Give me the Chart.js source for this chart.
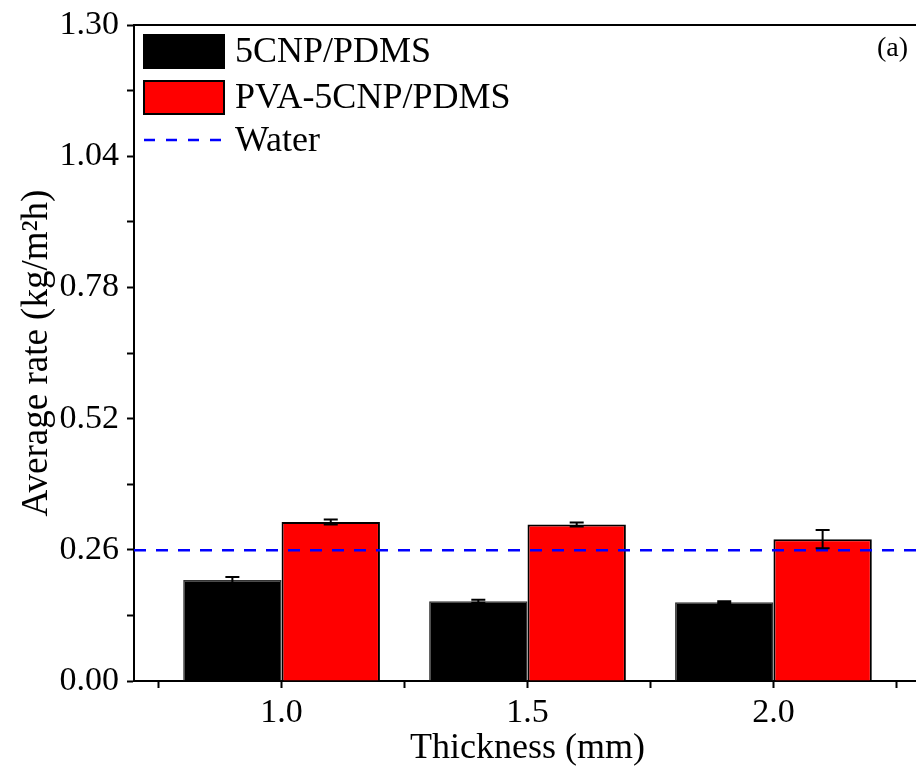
<!DOCTYPE html>
<html>
<head>
<meta charset="utf-8">
<script src="https://cdn.jsdelivr.net/npm/chart.js@4.4.0/dist/chart.umd.min.js"></script>
<style>
  html, body { margin: 0; padding: 0; background: #fff; overflow: hidden; }
  #wrap { width: 916px; height: 767px; overflow: hidden; }
</style>
</head>
<body>
<div id="wrap"><canvas id="grafico" width="940" height="767"></canvas></div>
<script>
// datos
const espesores = [1.0, 1.5, 2.0];
const tasaCNP = [0.200, 0.158, 0.156];
const errCNP = [0.006, 0.003, 0.002];
const tasaPVA = [0.315, 0.310, 0.281];
const errPVA = [0.005, 0.004, 0.018];
const tasaAgua = 0.259;
const ticksX = [0.75, 1.0, 1.25, 1.5, 1.75, 2.0, 2.25];
const etiquetas = ["5CNP/PDMS", "PVA-5CNP/PDMS", "Water"];
const panel = "(a)";
const xMin = 0.7, xMax = 2.3;
const yMax = 1.3, yPaso = 0.13;

const fuente = '"Liberation Serif", "Times New Roman", serif';
Chart.defaults.font.family = fuente;
Chart.defaults.color = "#000";

// barras de error
const barrasError = {
  id: "barrasError",
  afterDatasetsDraw(chart) {
    const ctx = chart.ctx;
    const y = chart.scales.y;
    chart.data.datasets.forEach((ds, i) => {
      if (!ds.errores) return;
      const meta = chart.getDatasetMeta(i);
      meta.data.forEach((bar, j) => {
        const v = ds.data[j].y;
        const e = ds.errores[j];
        const yArr = y.getPixelForValue(v + e);
        const yAba = y.getPixelForValue(v - e);
        ctx.save();
        ctx.strokeStyle = "#000";
        ctx.lineWidth = 2;
        ctx.beginPath();
        ctx.moveTo(bar.x, yArr);
        ctx.lineTo(bar.x, yAba);
        ctx.moveTo(bar.x - 7, yArr);
        ctx.lineTo(bar.x + 7, yArr);
        ctx.moveTo(bar.x - 7, yAba);
        ctx.lineTo(bar.x + 7, yAba);
        ctx.stroke();
        ctx.restore();
      });
    });
  },
};

// marco superior + leyenda + etiqueta del panel
const marcoYLeyenda = {
  id: "marcoYLeyenda",
  afterDraw(chart) {
    const ctx = chart.ctx;
    const a = chart.chartArea;
    ctx.save();
    ctx.strokeStyle = "#000";
    ctx.lineWidth = 2;
    ctx.beginPath();
    ctx.moveTo(a.left, a.top);
    ctx.lineTo(a.right, a.top);
    ctx.lineTo(a.right, a.bottom);
    ctx.stroke();

    const ds = chart.data.datasets;
    const x0 = a.left + 10;
    const textoX = a.left + 101;
    ctx.font = "36px " + fuente;
    ctx.fillStyle = "#000";
    ctx.textBaseline = "middle";
    ctx.textAlign = "left";
    [0, 1].forEach((k) => {
      const yc = a.top + 26 + k * 46;
      ctx.fillStyle = ds[k].backgroundColor;
      ctx.fillRect(x0, yc - 16, 80, 33);
      ctx.strokeStyle = "#000";
      ctx.lineWidth = 2;
      ctx.strokeRect(x0, yc - 16, 80, 33);
      ctx.fillStyle = "#000";
      ctx.fillText(ds[k].label, textoX, yc + 2);
    });
    const yl = a.top + 115;
    ctx.strokeStyle = ds[2].borderColor;
    ctx.lineWidth = 2.5;
    ctx.setLineDash([11, 11]);
    ctx.beginPath();
    ctx.moveTo(x0, yl);
    ctx.lineTo(x0 + 80, yl);
    ctx.stroke();
    ctx.setLineDash([]);
    ctx.fillText(ds[2].label, textoX, yl + 2);

    ctx.font = "28px " + fuente;
    ctx.textAlign = "right";
    ctx.fillText(panel, 908, a.top + 24);
    ctx.restore();
  },
};

// el eje x lineal cuenta tambien los ticks menores (cada 0.25) al medir
// el ancho de la categoria, por eso categoryPercentage = 2 x 0.8
const ctx = document.getElementById("grafico").getContext("2d");
new Chart(ctx, {
  data: {
    datasets: [
      {
        type: "bar",
        label: etiquetas[0],
        data: espesores.map((x, i) => ({ x: x, y: tasaCNP[i] })),
        errores: errCNP,
        backgroundColor: "#000000",
        borderColor: "#333",
        borderWidth: 1.5,
        categoryPercentage: 1.6,
        barPercentage: 1.0,
        order: 1,
      },
      {
        type: "bar",
        label: etiquetas[1],
        data: espesores.map((x, i) => ({ x: x, y: tasaPVA[i] })),
        errores: errPVA,
        backgroundColor: "#ff0000",
        borderColor: "#000",
        borderWidth: 2,
        categoryPercentage: 1.6,
        barPercentage: 1.0,
        order: 1,
      },
      {
        type: "line",
        label: etiquetas[2],
        data: [
          { x: xMin, y: tasaAgua },
          { x: xMax, y: tasaAgua },
        ],
        borderColor: "#0000ff",
        borderWidth: 2.5,
        borderDash: [12, 10],
        pointRadius: 0,
        order: 0,
      },
    ],
  },
  options: {
    responsive: false,
    animation: false,
    layout: { padding: { top: 24, right: 19, bottom: 0, left: 0 } },
    plugins: {
      legend: { display: false },
      tooltip: { enabled: false },
    },
    scales: {
      x: {
        type: "linear",
        min: xMin,
        max: xMax,
        offset: false,
        afterBuildTicks: (scale) => {
          scale.ticks = ticksX.map((v) => ({ value: v }));
        },
        afterFit: (scale) => {
          scale.height = 86;
        },
        ticks: {
          autoSkip: false,
          maxRotation: 0,
          padding: 5,
          font: { size: 34 },
          callback: (v) => (espesores.includes(v) ? v.toFixed(1) : ""),
        },
        grid: {
          offset: false,
          drawOnChartArea: false,
          drawTicks: true,
          tickLength: 7,
          tickWidth: 2,
          color: "#000",
        },
        border: { display: true, color: "#000", width: 2 },
        title: {
          display: true,
          text: "Thickness (mm)",
          font: { size: 36 },
          padding: { top: 0, bottom: -3 },
        },
      },
      y: {
        min: 0,
        max: yMax,
        afterFit: (scale) => {
          scale.width = 134;
        },
        ticks: {
          stepSize: yPaso,
          padding: 8,
          font: { size: 34, lineHeight: 1 },
          callback: (v, i) => (i % 2 === 0 ? v.toFixed(2) : ""),
        },
        grid: {
          drawOnChartArea: false,
          drawTicks: true,
          tickLength: 7,
          tickWidth: 2,
          color: "#000",
        },
        border: { display: true, color: "#000", width: 2 },
        title: {
          display: true,
          text: "Average rate (kg/m²h)",
          font: { size: 37 },
          padding: { top: 15, bottom: 0 },
        },
      },
    },
  },
  plugins: [barrasError, marcoYLeyenda],
});
</script>
</body>
</html>
